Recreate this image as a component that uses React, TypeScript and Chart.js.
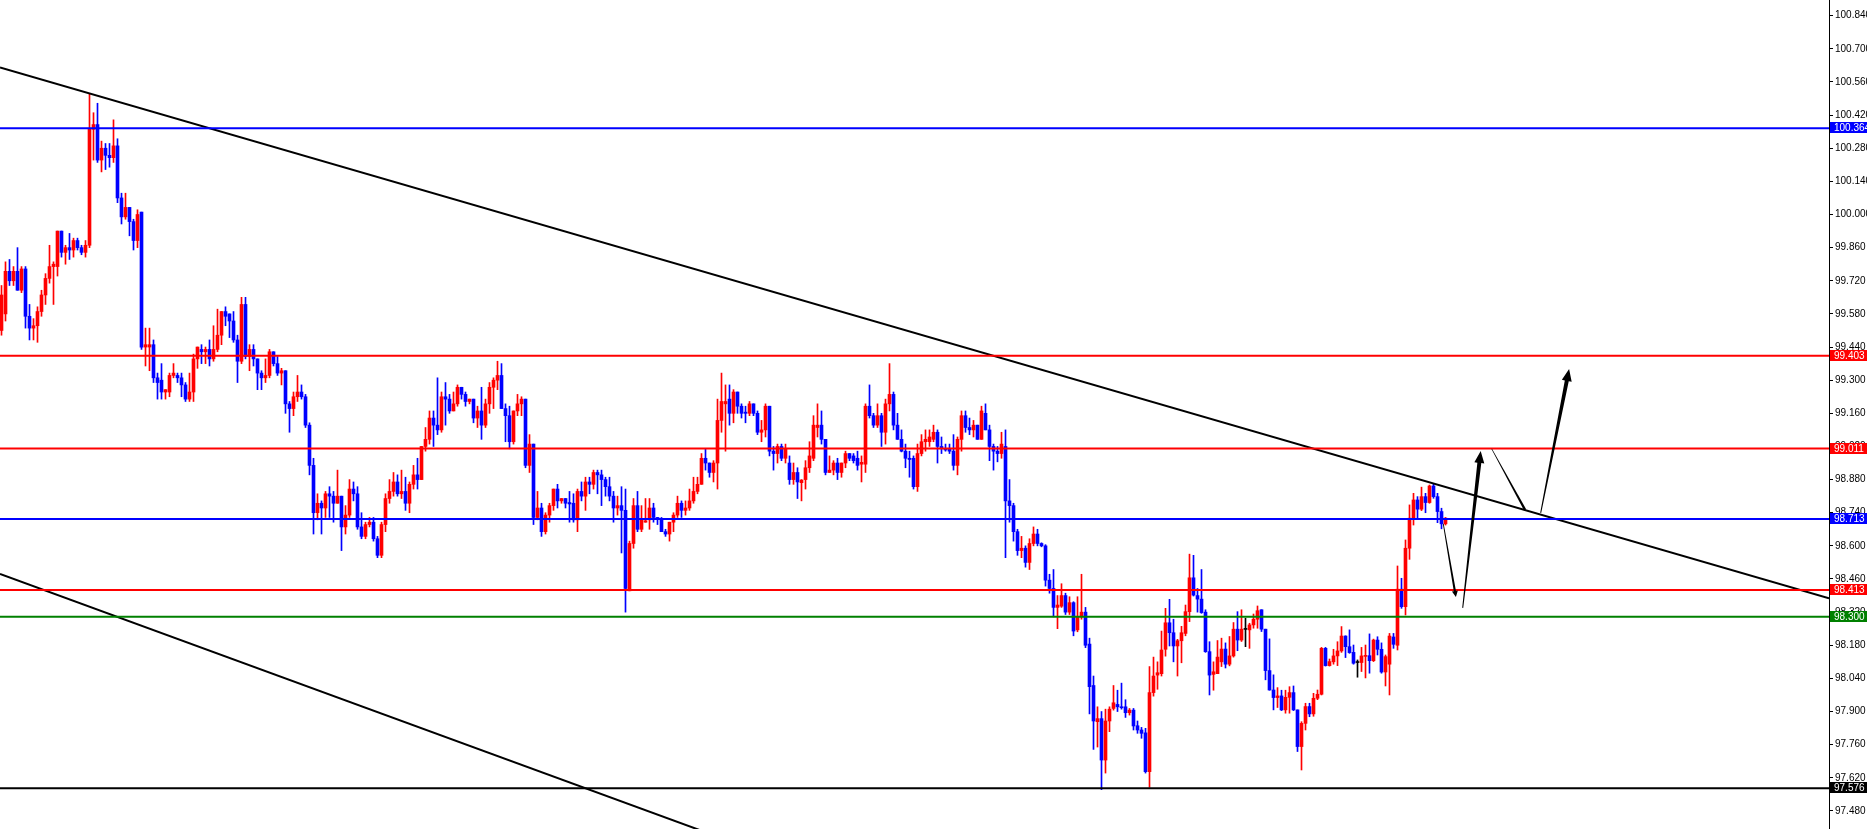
import React, { useEffect, useRef } from "react";
import { Chart, registerables } from "chart.js";

Chart.register(...registerables);

// ---- OHLC data (one candle per bar, left to right) ----
const opens = [
  99.51, 99.58, 99.76, 99.72, 99.76, 99.68, 99.77, 99.57, 99.52, 99.53,
  99.59, 99.66, 99.73, 99.78, 99.78, 99.93, 99.84, 99.86, 99.85, 99.89,
  99.86, 99.84, 99.87, 100.36, 100.38, 100.23, 100.28, 100.25, 100.24, 100.29,
  100.07, 99.99, 100.03, 99.97, 99.89, 100.01, 99.44, 99.44, 99.45, 99.31,
  99.30, 99.25, 99.25, 99.32, 99.32, 99.31, 99.28, 99.22, 99.25, 99.39,
  99.43, 99.42, 99.43, 99.39, 99.43, 99.49, 99.59, 99.58, 99.55, 99.47,
  99.38, 99.62, 99.40, 99.43, 99.39, 99.33, 99.31, 99.32, 99.42, 99.37,
  99.33, 99.34, 99.20, 99.18, 99.23, 99.25, 99.23, 99.11, 98.94, 98.74,
  98.78, 98.76, 98.82, 98.81, 98.78, 98.81, 98.68, 98.73, 98.84, 98.82,
  98.68, 98.64, 98.69, 98.70, 98.63, 98.56, 98.69, 98.80, 98.83, 98.87,
  98.82, 98.83, 98.78, 98.86, 98.90, 98.88, 99.02, 99.05, 99.14, 99.11,
  99.09, 99.23, 99.22, 99.17, 99.20, 99.27, 99.24, 99.21, 99.22, 99.14,
  99.17, 99.11, 99.20, 99.27, 99.30, 99.32, 99.18, 99.15, 99.04, 99.17,
  99.20, 99.22, 98.94, 99.03, 98.72, 98.76, 98.66, 98.73, 98.77, 98.84,
  98.79, 98.80, 98.783, 98.78, 98.71, 98.83, 98.81, 98.87, 98.86, 98.91,
  98.90, 98.88, 98.85, 98.81, 98.76, 98.77, 98.75, 98.41, 98.61, 98.77,
  98.67, 98.70, 98.71, 98.76, 98.72, 98.715, 98.66, 98.65, 98.70, 98.73,
  98.78, 98.75, 98.76, 98.79, 98.83, 98.86, 98.97, 98.95, 98.91, 98.95,
  99.13, 99.20, 99.22, 99.16, 99.25, 99.19, 99.165, 99.16, 99.20, 99.16,
  99.08, 99.09, 99.19, 99.00, 98.99, 99.02, 98.97, 98.95, 98.88, 98.91,
  98.867, 98.88, 98.93, 98.97, 99.10, 99.11, 99.05, 98.91, 98.92, 98.95,
  98.91, 98.95, 98.99, 98.98, 98.97, 98.945, 98.945, 99.19, 99.15, 99.11,
  99.15, 99.08, 99.20, 99.24, 99.11, 99.05, 99.00, 98.97, 98.97, 98.85,
  98.99, 99.04, 99.04, 99.05, 99.08, 99.02, 99.01, 99.01, 99.00, 98.94,
  99.05, 99.15, 99.10, 99.09, 99.11, 99.05, 99.16, 99.09, 99.02, 99.00,
  98.99, 99.02, 98.79, 98.77, 98.66, 98.58, 98.59, 98.53, 98.61, 98.65,
  98.61, 98.60, 98.455, 98.42, 98.34, 98.345, 98.39, 98.32, 98.36, 98.245,
  98.30, 98.32, 98.185, 98.01, 97.857, 97.87, 97.695, 97.86, 97.913, 97.93,
  97.92, 97.92, 97.895, 97.906, 97.84, 97.822, 97.81, 97.646, 97.98, 98.054,
  98.06, 98.163, 98.275, 98.233, 98.177, 98.199, 98.23, 98.322, 98.465, 98.39,
  98.375, 98.32, 98.153, 98.057, 98.06, 98.11, 98.164, 98.10, 98.135, 98.248,
  98.202, 98.247, 98.245, 98.266, 98.29, 98.33, 98.248, 98.073, 97.991, 97.959,
  97.966, 97.907, 97.96, 97.98, 97.907, 97.752, 97.85, 97.921, 97.89, 97.956,
  97.973, 98.167, 98.094, 98.11, 98.135, 98.156, 98.219, 98.174, 98.15, 98.107,
  98.107, 98.133, 98.136, 98.115, 98.202, 98.163, 98.067, 98.10, 98.215, 98.18,
  98.417, 98.343, 98.59, 98.717, 98.794, 98.755, 98.808, 98.783, 98.853, 98.808,
  98.745, 98.693,
];

const highs = [
  99.70, 99.80, 99.81, 99.78, 99.86, 99.78, 99.78, 99.62, 99.56, 99.61,
  99.68, 99.75, 99.87, 99.80, 99.93, 99.93, 99.87, 99.92, 99.90, 99.90,
  99.87, 99.89, 100.51, 100.43, 100.47, 100.31, 100.30, 100.30, 100.40, 100.32,
  100.09, 100.09, 100.03, 99.98, 100.02, 100.01, 99.52, 99.52, 99.47, 99.33,
  99.37, 99.26, 99.33, 99.37, 99.33, 99.33, 99.29, 99.33, 99.41, 99.44,
  99.45, 99.44, 99.47, 99.53, 99.60, 99.59, 99.61, 99.58, 99.59, 99.49,
  99.65, 99.65, 99.45, 99.45, 99.39, 99.34, 99.39, 99.43, 99.42, 99.40,
  99.35, 99.34, 99.21, 99.25, 99.32, 99.28, 99.24, 99.12, 98.97, 98.82,
  98.79, 98.83, 98.85, 98.83, 98.92, 98.81, 98.77, 98.88, 98.87, 98.85,
  98.74, 98.70, 98.72, 98.72, 98.64, 98.70, 98.82, 98.88, 98.91, 98.90,
  98.92, 98.89, 98.87, 98.94, 98.97, 99.02, 99.10, 99.17, 99.17, 99.31,
  99.25, 99.29, 99.24, 99.25, 99.28, 99.27, 99.25, 99.22, 99.22, 99.19,
  99.27, 99.22, 99.29, 99.31, 99.38, 99.37, 99.20, 99.19, 99.17, 99.24,
  99.23, 99.22, 99.07, 99.03, 98.83, 98.78, 98.74, 98.78, 98.84, 98.86,
  98.80, 98.80, 98.83, 98.82, 98.84, 98.87, 98.89, 98.89, 98.92, 98.92,
  98.92, 98.89, 98.89, 98.83, 98.81, 98.85, 98.84, 98.62, 98.80, 98.83,
  98.77, 98.80, 98.80, 98.78, 98.72, 98.72, 98.67, 98.70, 98.74, 98.81,
  98.79, 98.79, 98.84, 98.89, 98.89, 98.99, 99.01, 98.95, 98.96, 99.22,
  99.33, 99.28, 99.28, 99.26, 99.25, 99.20, 99.19, 99.21, 99.20, 99.17,
  99.13, 99.20, 99.19, 99.02, 99.03, 99.03, 99.03, 98.98, 98.95, 98.93,
  98.88, 98.96, 99.04, 99.15, 99.20, 99.17, 99.05, 98.98, 98.96, 98.97,
  98.95, 99.00, 98.99, 98.99, 99.00, 98.98, 99.20, 99.28, 99.16, 99.20,
  99.16, 99.22, 99.37, 99.25, 99.16, 99.09, 99.03, 99.00, 98.98, 99.03,
  99.07, 99.09, 99.09, 99.11, 99.09, 99.06, 99.03, 99.03, 99.07, 99.06,
  99.17, 99.17, 99.14, 99.13, 99.11, 99.19, 99.20, 99.11, 99.03, 99.02,
  99.08, 99.09, 98.88, 98.78, 98.67, 98.64, 98.60, 98.63, 98.68, 98.67,
  98.613, 98.605, 98.48, 98.50, 98.39, 98.44, 98.40, 98.385, 98.364, 98.385,
  98.48, 98.34, 98.21, 98.05, 97.92, 97.90, 97.91, 97.92, 98.01, 97.99,
  98.02, 97.95, 97.913, 97.913, 97.86, 97.833, 97.829, 98.09, 98.13, 98.11,
  98.24, 98.336, 98.374, 98.29, 98.205, 98.26, 98.35, 98.565, 98.56, 98.42,
  98.50, 98.33, 98.195, 98.11, 98.20, 98.21, 98.19, 98.217, 98.276, 98.322,
  98.33, 98.294, 98.273, 98.312, 98.346, 98.33, 98.248, 98.207, 98.055, 98.001,
  97.99, 97.99, 98.005, 98.008, 97.907, 97.857, 97.935, 97.935, 97.977, 97.991,
  98.171, 98.171, 98.122, 98.163, 98.195, 98.259, 98.22, 98.245, 98.181, 98.118,
  98.171, 98.181, 98.228, 98.206, 98.216, 98.19, 98.139, 98.23, 98.23, 98.515,
  98.463, 98.625, 98.773, 98.822, 98.808, 98.848, 98.822, 98.857, 98.862, 98.822,
  98.759, 98.72,
];

const lows = [
  99.49, 99.55, 99.70, 99.70, 99.68, 99.67, 99.52, 99.47, 99.47, 99.46,
  99.57, 99.62, 99.71, 99.62, 99.74, 99.82, 99.79, 99.81, 99.82, 99.85,
  99.83, 99.82, 99.86, 100.23, 100.22, 100.18, 100.19, 100.20, 100.22, 100.05,
  99.96, 99.98, 99.91, 99.85, 99.86, 99.43, 99.36, 99.34, 99.29, 99.22,
  99.22, 99.22, 99.23, 99.31, 99.29, 99.23, 99.21, 99.21, 99.21, 99.35,
  99.37, 99.37, 99.36, 99.38, 99.42, 99.45, 99.53, 99.48, 99.46, 99.29,
  99.37, 99.39, 99.34, 99.36, 99.26, 99.26, 99.29, 99.31, 99.36, 99.32,
  99.28, 99.16, 99.08, 99.15, 99.21, 99.22, 99.10, 98.90, 98.65, 98.71,
  98.65, 98.72, 98.72, 98.70, 98.78, 98.58, 98.65, 98.72, 98.79, 98.67,
  98.63, 98.63, 98.68, 98.62, 98.55, 98.55, 98.66, 98.78, 98.81, 98.81,
  98.80, 98.75, 98.74, 98.84, 98.84, 98.88, 99.00, 99.03, 99.02, 99.07,
  99.08, 99.11, 99.16, 99.17, 99.19, 99.22, 99.19, 99.20, 99.12, 99.10,
  99.05, 99.10, 99.16, 99.18, 99.26, 99.18, 99.04, 99.01, 99.03, 99.15,
  99.15, 98.93, 98.91, 98.69, 98.71, 98.64, 98.65, 98.70, 98.75, 98.76,
  98.78, 98.76, 98.70, 98.70, 98.66, 98.79, 98.75, 98.82, 98.84, 98.82,
  98.77, 98.81, 98.79, 98.70, 98.73, 98.57, 98.32, 98.41, 98.59, 98.66,
  98.66, 98.70, 98.67, 98.70, 98.69, 98.66, 98.64, 98.62, 98.66, 98.72,
  98.72, 98.73, 98.75, 98.78, 98.82, 98.86, 98.92, 98.89, 98.87, 98.84,
  99.08, 99.00, 99.11, 99.12, 99.16, 99.14, 99.12, 99.15, 99.15, 99.07,
  99.04, 99.06, 98.98, 98.92, 98.95, 98.96, 98.95, 98.86, 98.86, 98.80,
  98.79, 98.84, 98.91, 98.96, 99.06, 99.03, 98.90, 98.91, 98.90, 98.88,
  98.89, 98.93, 98.96, 98.95, 98.92, 98.87, 98.91, 99.14, 99.10, 99.10,
  99.02, 99.03, 99.17, 99.09, 99.05, 98.997, 98.93, 98.89, 98.84, 98.83,
  98.98, 99.00, 99.02, 99.04, 98.95, 98.99, 99.00, 98.99, 98.92, 98.90,
  99.00, 99.08, 99.07, 99.06, 99.05, 99.05, 99.09, 98.96, 98.92, 98.955,
  98.97, 98.55, 98.70, 98.62, 98.56, 98.55, 98.51, 98.50, 98.60, 98.60,
  98.596, 98.43, 98.40, 98.30, 98.25, 98.34, 98.31, 98.31, 98.22, 98.237,
  98.29, 98.17, 97.89, 97.74, 97.75, 97.57, 97.64, 97.815, 97.906, 97.90,
  97.91, 97.875, 97.885, 97.822, 97.808, 97.787, 97.64, 97.58, 97.965, 97.994,
  98.05, 98.134, 98.177, 98.11, 98.05, 98.106, 98.22, 98.28, 98.388, 98.32,
  98.315, 98.15, 97.97, 97.99, 98.06, 98.09, 98.084, 98.093, 98.13, 98.157,
  98.196, 98.174, 98.167, 98.252, 98.252, 98.238, 98.034, 97.99, 97.907, 97.917,
  97.904, 97.893, 97.893, 97.904, 97.731, 97.653, 97.822, 97.878, 97.88, 97.95,
  97.97, 98.092, 98.092, 98.10, 98.094, 98.15, 98.128, 98.146, 98.10, 98.045,
  98.069, 98.042, 98.062, 98.111, 98.139, 98.062, 98.008, 97.97, 98.167, 98.16,
  98.336, 98.308, 98.543, 98.688, 98.717, 98.749, 98.74, 98.78, 98.801, 98.698,
  98.672, 98.688,
];

const closes = [
  99.66, 99.76, 99.72, 99.76, 99.68, 99.77, 99.57, 99.52, 99.53, 99.59,
  99.66, 99.73, 99.78, 99.79, 99.93, 99.84, 99.86, 99.85, 99.89, 99.86,
  99.84, 99.87, 100.36, 100.38, 100.23, 100.28, 100.25, 100.24, 100.29, 100.07,
  99.99, 100.03, 99.97, 99.89, 100.00, 99.44, 99.45, 99.45, 99.31, 99.29,
  99.25, 99.26, 99.32, 99.33, 99.31, 99.28, 99.22, 99.25, 99.39, 99.44,
  99.42, 99.43, 99.39, 99.43, 99.49, 99.59, 99.57, 99.55, 99.47, 99.38,
  99.62, 99.40, 99.43, 99.39, 99.33, 99.31, 99.32, 99.42, 99.37, 99.33,
  99.34, 99.20, 99.18, 99.23, 99.25, 99.23, 99.11, 98.94, 98.74, 98.78,
  98.76, 98.82, 98.81, 98.78, 98.81, 98.68, 98.73, 98.84, 98.82, 98.68,
  98.64, 98.69, 98.70, 98.63, 98.56, 98.69, 98.80, 98.83, 98.87, 98.82,
  98.83, 98.78, 98.86, 98.90, 98.88, 99.02, 99.05, 99.14, 99.11, 99.09,
  99.23, 99.22, 99.17, 99.20, 99.27, 99.24, 99.21, 99.22, 99.14, 99.17,
  99.11, 99.20, 99.27, 99.30, 99.32, 99.18, 99.15, 99.04, 99.17, 99.20,
  99.22, 98.94, 99.03, 98.72, 98.76, 98.66, 98.73, 98.77, 98.84, 98.79,
  98.80, 98.78, 98.777, 98.71, 98.83, 98.81, 98.87, 98.86, 98.91, 98.90,
  98.88, 98.85, 98.81, 98.76, 98.77, 98.75, 98.42, 98.61, 98.77, 98.67,
  98.71, 98.706, 98.76, 98.72, 98.715, 98.66, 98.65, 98.70, 98.73, 98.78,
  98.75, 98.76, 98.79, 98.83, 98.86, 98.97, 98.95, 98.91, 98.95, 99.13,
  99.21, 99.21, 99.16, 99.25, 99.19, 99.16, 99.16, 99.20, 99.16, 99.08,
  99.09, 99.19, 99.00, 98.99, 99.02, 98.97, 99.01, 98.88, 98.91, 98.87,
  98.878, 98.93, 98.98, 99.11, 99.11, 99.05, 98.91, 98.92, 98.95, 98.91,
  98.95, 98.99, 98.97, 98.96, 98.94, 98.953, 99.19, 99.15, 99.11, 99.15,
  99.08, 99.20, 99.24, 99.11, 99.05, 99.00, 98.97, 98.965, 98.85, 98.99,
  99.04, 99.05, 99.06, 99.08, 99.02, 99.01, 99.005, 99.00, 98.94, 99.05,
  99.15, 99.10, 99.09, 99.11, 99.05, 99.17, 99.09, 99.02, 99.00, 98.99,
  99.03, 98.79, 98.77, 98.66, 98.58, 98.59, 98.53, 98.61, 98.65, 98.61,
  98.60, 98.455, 98.42, 98.34, 98.35, 98.39, 98.32, 98.36, 98.24, 98.30,
  98.32, 98.18, 98.005, 97.86, 97.87, 97.695, 97.86, 97.91, 97.937, 97.92,
  97.916, 97.895, 97.906, 97.839, 97.822, 97.808, 97.646, 97.98, 98.05, 98.064,
  98.16, 98.275, 98.233, 98.177, 98.199, 98.233, 98.322, 98.465, 98.392, 98.375,
  98.318, 98.153, 98.054, 98.068, 98.13, 98.164, 98.10, 98.135, 98.248, 98.202,
  98.248, 98.247, 98.266, 98.29, 98.326, 98.248, 98.073, 97.991, 97.959, 97.966,
  97.907, 97.96, 97.98, 97.907, 97.752, 97.85, 97.921, 97.89, 97.956, 97.973,
  98.167, 98.094, 98.111, 98.135, 98.156, 98.219, 98.174, 98.149, 98.104, 98.107,
  98.135, 98.135, 98.115, 98.202, 98.163, 98.067, 98.132, 98.219, 98.184, 98.417,
  98.343, 98.59, 98.717, 98.794, 98.755, 98.808, 98.783, 98.853, 98.808, 98.745,
  98.693, 98.717,
];

// ---- Price axis ticks ----
const yTickValues = [
  97.48, 97.62, 97.76, 97.9, 98.04, 98.18, 98.32, 98.46, 98.6, 98.74, 98.88,
  99.02, 99.16, 99.3, 99.44, 99.58, 99.72, 99.86, 100.0, 100.14, 100.28,
  100.42, 100.56, 100.7, 100.84,
];
const yMin = 97.4037;
const yMax = 100.9063;
const xMin = -0.375;
const xMax = 456.875;

// ---- Horizontal levels ----
const levelValues = [100.364, 99.403, 99.011, 98.713, 98.413, 98.3, 97.576];
const levelColors = ["#0000ff", "#ff0000", "#ff0000", "#0000ff", "#ff0000", "#008000", "#000000"];

// ---- Trend lines (bar index, price) ----
const upperTrendX = [-0.375, 456.875];
const upperTrendY = [100.621, 98.378];
const lowerTrendX = [-0.375, 249.625];
const lowerTrendY = [98.481, 96.935];

// ---- Hand-drawn arrows (bar index, price) ----
const arrowFromX = [360.45, 365.3, 372.55, 384.8];
const arrowFromY = [98.693, 98.338, 99.01, 98.739];
const arrowToX = [363.6, 369.8, 380.9, 391.9];
const arrowToY = [98.384, 99.001, 98.752, 99.347];
const arrowStartW = [0.8, 1.0, 0.6, 1.0];
const arrowEndW = [2.2, 4.0, 2.4, 4.0];
const arrowHeadLen = [6, 12, 0, 12];
const arrowHeadHalf = [3, 5, 0, 5];

const UP = "#ff0000";
const DOWN = "#0000ff";
const DOJI = "#000000";

const candleColors = opens.map((o, i) =>
  Math.abs(closes[i] - o) < 0.0005 ? DOJI : closes[i] > o ? UP : DOWN
);

const FONT = "'Liberation Sans', Arial, sans-serif";

const arrowPlugin = {
  id: "arrowPlugin",
  afterDatasetsDraw(chart: any) {
    const { ctx, scales, chartArea } = chart;
    const xs = scales.x;
    const ys = scales.y;
    ctx.save();
    ctx.beginPath();
    ctx.rect(chartArea.left, chartArea.top, chartArea.right - chartArea.left, chartArea.bottom - chartArea.top);
    ctx.clip();
    ctx.fillStyle = "#000";
    for (let k = 0; k < arrowFromX.length; k++) {
      const x0 = xs.getPixelForValue(arrowFromX[k]);
      const y0 = ys.getPixelForValue(arrowFromY[k]);
      const x1 = xs.getPixelForValue(arrowToX[k]);
      const y1 = ys.getPixelForValue(arrowToY[k]);
      const dx = x1 - x0;
      const dy = y1 - y0;
      const len = Math.hypot(dx, dy);
      const ux = dx / len;
      const uy = dy / len;
      const nx = -uy;
      const ny = ux;
      const head = arrowHeadLen[k];
      const hw = arrowHeadHalf[k];
      const ex = x1 - ux * head;
      const ey = y1 - uy * head;
      const w0 = arrowStartW[k] / 2;
      const w1 = arrowEndW[k] / 2;
      ctx.beginPath();
      ctx.moveTo(x0 + nx * w0, y0 + ny * w0);
      ctx.lineTo(ex + nx * w1, ey + ny * w1);
      if (head > 0) {
        ctx.lineTo(ex + nx * hw, ey + ny * hw);
        ctx.lineTo(x1, y1);
        ctx.lineTo(ex - nx * hw, ey - ny * hw);
      }
      ctx.lineTo(ex - nx * w1, ey - ny * w1);
      ctx.lineTo(x0 - nx * w0, y0 - ny * w0);
      ctx.closePath();
      ctx.fill();
    }
    ctx.restore();
  },
};

const levelLabelPlugin = {
  id: "levelLabelPlugin",
  afterDraw(chart: any) {
    const { ctx, scales, chartArea, width } = chart;
    const ys = scales.y;
    ctx.save();
    ctx.font = `10px ${FONT}`;
    ctx.textBaseline = "middle";
    ctx.textAlign = "left";
    levelValues.forEach((v, k) => {
      const y = Math.round(ys.getPixelForValue(v));
      ctx.fillStyle = levelColors[k];
      ctx.fillRect(chartArea.right + 1, y - 6, width - chartArea.right - 1, 11);
      ctx.fillStyle = "#ffffff";
      ctx.fillText(v.toFixed(3), chartArea.right + 5, y);
    });
    ctx.restore();
  },
};

export default function App() {
  const ref = useRef<HTMLCanvasElement | null>(null);

  useEffect(() => {
    if (!ref.current) return;
    const levelDatasets = levelValues.map((v, k) => ({
      type: "line" as const,
      data: [
        { x: xMin, y: v },
        { x: xMax, y: v },
      ],
      borderColor: levelColors[k],
      borderWidth: 2,
      pointRadius: 0,
      fill: false,
      tension: 0,
      order: 0,
    }));
    const trendDatasets = [
      { xs: upperTrendX, ys: upperTrendY },
      { xs: lowerTrendX, ys: lowerTrendY },
    ].map((t) => ({
      type: "line" as const,
      data: t.xs.map((x, j) => ({ x, y: t.ys[j] })),
      borderColor: "#000000",
      borderWidth: 2,
      pointRadius: 0,
      fill: false,
      tension: 0,
      order: 0,
    }));

    const chart = new Chart(ref.current, {
      type: "bar",
      data: {
        datasets: [
          ...levelDatasets,
          ...trendDatasets,
          {
            type: "bar" as const,
            data: opens.map((o, i) => ({ x: i, y: [o, closes[i]] })) as any,
            backgroundColor: candleColors,
            borderWidth: 0,
            barThickness: 3,
            minBarLength: 1,
            stack: "candle",
            order: 1,
          },
          {
            type: "bar" as const,
            data: opens.map((_, i) => ({ x: i, y: [lows[i], highs[i]] })) as any,
            backgroundColor: candleColors,
            borderWidth: 0,
            barThickness: 1,
            minBarLength: 1,
            stack: "candle",
            order: 2,
          },
        ] as any,
      },
      options: {
        animation: false,
        responsive: false,
        devicePixelRatio: 1,
        layout: { padding: 0 },
        plugins: {
          legend: { display: false },
          tooltip: { enabled: false },
        },
        events: [],
        scales: {
          x: {
            type: "linear",
            display: false,
            offset: false,
            min: xMin,
            max: xMax,
          },
          y: {
            type: "linear",
            position: "right",
            stacked: false,
            min: yMin,
            max: yMax,
            afterBuildTicks: (scale: any) => {
              scale.ticks = yTickValues.map((v) => ({ value: v }));
            },
            afterFit: (scale: any) => {
              scale.width = 38;
              scale.paddingTop = 0;
              scale.paddingBottom = 0;
            },
            border: { display: true, color: "#000000", width: 1 },
            grid: {
              display: true,
              drawOnChartArea: false,
              drawTicks: true,
              tickLength: 4,
              color: "#000000",
            },
            ticks: {
              autoSkip: false,
              padding: 2,
              color: "#000000",
              font: { family: FONT, size: 10 },
              callback: (v: any) => Number(v).toFixed(3),
            },
          },
        },
      } as any,
      plugins: [arrowPlugin, levelLabelPlugin],
    });
    return () => chart.destroy();
  }, []);

  return (
    <div
      style={{
        position: "fixed",
        left: 0,
        top: 0,
        width: 1867,
        height: 829,
        background: "#ffffff",
      }}
    >
      <canvas ref={ref} width={1867} height={829} style={{ display: "block", width: 1867, height: 829 }} />
    </div>
  );
}
